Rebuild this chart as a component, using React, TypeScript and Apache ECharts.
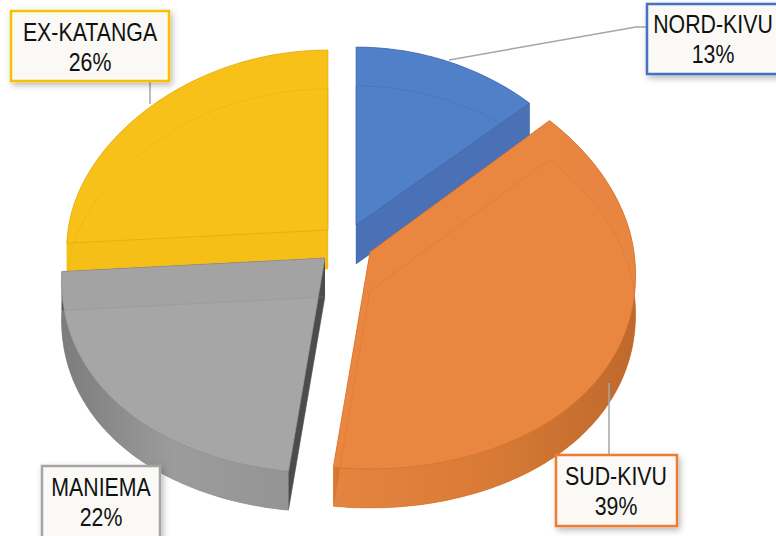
import React, { useEffect, useRef } from "react";
import * as echarts from "echarts";

// ---- data ----
const categories = ["NORD-KIVU", "SUD-KIVU", "MANIEMA", "EX-KATANGA"];
const shares = [13, 39, 22, 26];

// ---- styles / layout ----
const PALETTE = [
  { top: "#5181C7", side: "#4A71B6", cut: "#4A70B5", line: "#3F64A8", border: "#4472C4",
    wall: ["#4A71B6", "#4A71B6"] },
  { top: "#E98641", side: "#DC7A35", cut: "#D8772F", line: "#D06E2C", border: "#ED7D31",
    wall: ["#E3843F", "#D97B37", "#BE692C"] },
  { top: "#A6A6A6", side: "#969696", cut: "#4C4C4C", line: "#8C8C8C", border: "#A5A5A5",
    wall: ["#7C7C7C", "#9C9C9C", "#949494"] },
  { top: "#F8C11A", side: "#F0B815", cut: "#F6BF18", line: "#D9A510", border: "#F9C003",
    wall: ["#F0B815", "#F0B815"] },
];

const GEOM = [
  { ax: 356, ay: 225, rx: 254, ryUp: 178, ryDown: 210 },
  { ax: 370, ay: 252, rx: 264, ryUp: 192, ryDown: 217 },
  { ax: 325, ay: 258, rx: 262, ryUp: 190, ryDown: 215 },
  { ax: 328, ay: 230, rx: 260, ryUp: 180, ryDown: 210 },
];
const DEPTH = 39;
const PERSP = 0.11;
const PAINT_ORDER = [0, 3, 2, 1];

const LABELS = [
  { box: [647, 4, 145, 70], text: [713, 39], leader: [[449, 60], [636, 27], [647, 27]] },
  { box: [556, 455, 121, 71], text: [616, 491], leader: [[609, 383], [609, 455]] },
  { box: [42, 466, 118, 80], text: [101, 502], leader: null },
  { box: [11, 11, 158, 70], text: [90, 47], leader: [[150, 81], [150, 104]] },
];

const FONT = "'Liberation Sans', Arial, sans-serif";
const NARROW = 0.82;

function pt(g: any, deg: number): number[] {
  const t = (deg * Math.PI) / 180;
  const c = Math.cos(t);
  const s = Math.sin(t);
  const dy = c > 0 ? -g.ryUp * c : -g.ryDown * c;
  const sc = 1 + (PERSP * dy) / 215;
  return [g.ax + g.rx * s * sc, g.ay + dy];
}

function renderItem(params: any, api: any) {
  const i = params.dataIndex;
  const total = shares.reduce((a, b) => a + b, 0);
  const before = shares.slice(0, i).reduce((a, b) => a + b, 0);
  const v = api.value(0);
  const a0 = (before / total) * 360;
  const a1 = ((before + v) / total) * 360;
  const g = GEOM[i];
  const p = PALETTE[i];
  const zb = PAINT_ORDER[i] * 10;
  const n = Math.max(8, Math.ceil(a1 - a0));
  const arc: number[][] = [];
  for (let k = 0; k <= n; k++) arc.push(pt(g, a0 + ((a1 - a0) * k) / n));
  const apex = [g.ax, g.ay];
  const down = (q: number[]) => [q[0], q[1] + DEPTH];
  const top = [apex, ...arc];
  const bottom = top.map(down);
  const wall = [...arc, ...arc.slice().reverse().map(down)];
  const cutA = [apex, arc[0], down(arc[0]), down(apex)];
  const cutB = [apex, arc[n], down(arc[n]), down(apex)];
  const stops = p.wall.map((c: string, k: number) => ({ offset: k / (p.wall.length - 1), color: c }));
  const lab = LABELS[i];
  const children: any[] = [
    { type: "polygon", shape: { points: bottom }, style: { fill: p.side }, z2: zb + 1 },
    {
      type: "polygon",
      shape: { points: wall },
      style: { fill: { type: "linear", x: 0, y: 0, x2: 1, y2: 0, colorStops: stops } },
      z2: zb + 2,
    },
    { type: "polygon", shape: { points: cutA }, style: { fill: p.cut }, z2: zb + 3 },
    { type: "polygon", shape: { points: cutB }, style: { fill: p.cut }, z2: zb + 3 },
    {
      type: "polygon",
      shape: { points: top },
      style: { fill: p.top, stroke: p.line, lineWidth: 0.6, opacity: 0.97 },
      z2: zb + 5,
    },
    {
      type: "polyline",
      shape: { points: [...bottom, bottom[0]] },
      style: { stroke: p.line, lineWidth: 1, opacity: 0.35, fill: null },
      z2: zb + 6,
    },
    {
      type: "rect",
      shape: { x: lab.box[0], y: lab.box[1], width: lab.box[2], height: lab.box[3] },
      style: {
        fill: "#FAF9F6",
        stroke: p.border,
        lineWidth: 2.5,
        shadowBlur: 6,
        shadowOffsetX: 2,
        shadowOffsetY: 3,
        shadowColor: "rgba(0,0,0,0.28)",
      },
      z2: 100,
    },
    {
      type: "text",
      x: lab.text[0],
      y: lab.text[1],
      scaleX: NARROW,
      style: {
        text: categories[i] + "\n" + v + "%",
        fontFamily: FONT,
        fontSize: 26,
        lineHeight: 30,
        fill: "#111111",
        align: "center",
        verticalAlign: "middle",
      },
      z2: 101,
    },
  ];
  if (lab.leader) {
    children.push({
      type: "polyline",
      shape: { points: lab.leader },
      style: { stroke: "#A6A6A6", lineWidth: 1.5, fill: null },
      z2: 99,
    });
  }
  return { type: "group", children };
}

export default function App() {
  const ref = useRef<HTMLDivElement>(null);
  useEffect(() => {
    if (!ref.current) return;
    const chart = echarts.init(ref.current, null, { renderer: "svg" });
    chart.setOption({
      animation: false,
      backgroundColor: "#FFFFFF",
      series: [
        {
          type: "custom",
          coordinateSystem: "none",
          renderItem,
          data: shares.map((v, i) => ({ name: categories[i], value: [v] })),
        },
      ],
    });
    return () => chart.dispose();
  }, []);
  return (
    <div
      ref={ref}
      style={{ position: "fixed", left: 0, top: 0, width: 776, height: 536 }}
    />
  );
}
